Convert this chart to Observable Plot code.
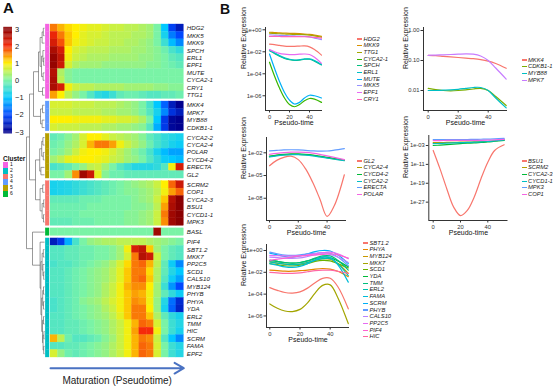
<!DOCTYPE html>
<html><head><meta charset="utf-8">
<script src="https://cdn.jsdelivr.net/npm/d3@7"></script>
<script src="https://cdn.jsdelivr.net/npm/@observablehq/plot@0.6"></script>
<style>
body{margin:0;background:#fff;font-family:'Liberation Sans',Arial,sans-serif}
#fig{position:relative;width:554px;height:386px;overflow:hidden;background:#fff}
#fig svg{position:absolute;left:0;top:0}
.h{position:absolute;white-space:nowrap;color:#111}
</style></head><body><div id="fig"></div>
<script>
// ================= Panel A data =================
const clusterColors = ["#F564E3","#00BFC4","#F8766D","#619CFF","#B79F00","#00BA38"]; // clusters 1..6
const clusterLabels = ["1","2","3","4","5","6"];
const groupClusters = [1,4,5,3,6,2];
const heatStops  = [-3,-2,-1,0,1,2,3];
const heatColors = ["#00008F","#0048FF","#00C8FF","#7AF3A6","#FFEF00","#F52A0A","#8B0000"];
const legendTicks = [3,2,1,0,-1,-2,-3];

const genesG1 = ["HDG2","MKK5","MKK9","SPCH","ERL1","EPF1","MUTE","CYCA2-1","CRY1","TTG1"];
const valuesG1 = [
 [1.6,1.3,1.1,1.0,0.9,0.8,0.8,0.7,0.6,0.6,0.5,0.5,0.4,0.3,0.0,-1.0,-2.1,-2.6],
 [2.1,1.6,1.2,1.0,0.8,0.7,0.7,0.6,0.5,0.5,0.5,0.4,0.4,0.3,0.0,-0.8,-1.6,-2.0],
 [2.3,1.8,1.2,0.9,0.8,0.7,0.6,0.6,0.5,0.5,0.4,0.4,0.3,0.2,0.0,-0.5,-1.1,-1.5],
 [2.7,2.3,1.0,0.7,0.6,0.5,0.5,0.5,0.4,0.4,0.4,0.3,0.3,0.2,0.1,-0.1,-0.4,-0.6],
 [2.9,2.5,0.9,0.6,0.5,0.4,0.4,0.4,0.3,0.3,0.3,0.3,0.2,0.2,0.1,0.0,-0.2,-0.3],
 [2.9,2.4,0.7,0.4,0.3,0.3,0.3,0.2,0.2,0.2,0.2,0.2,0.2,0.1,0.1,0.0,-0.1,-0.2],
 [2.6,0.4,0.1,0.0,0.0,0.0,0.0,0.0,0.0,0.0,0.0,0.0,0.0,0.0,0.0,0.0,0.0,0.0],
 [2.7,0.5,0.1,0.0,0.0,0.0,0.0,0.0,0.0,0.0,0.0,0.0,0.0,0.0,0.0,0.0,0.0,0.0],
 [2.7,2.3,0.9,0.6,0.5,0.5,0.4,0.4,0.4,0.4,0.3,0.3,0.3,0.3,0.2,0.2,0.1,0.1],
 [1.4,1.0,0.5,0.2,0.0,-0.3,-0.6,-0.7,-0.5,-0.2,-0.1,-0.1,-0.2,-0.3,-0.3,-0.2,-0.2,-0.1]
];
const genesG2 = ["MKK4","MPK7","MYB88","CDKB1-1"];
const valuesG2 = [
 [0.7,0.7,0.7,0.6,0.6,0.6,0.5,0.5,0.5,0.4,0.3,0.2,0.0,-0.4,-1.0,-1.8,-2.6,-3.0],
 [0.6,0.6,0.6,0.5,0.5,0.5,0.5,0.4,0.4,0.3,0.3,0.2,0.0,-0.3,-0.8,-1.5,-2.3,-2.6],
 [1.0,1.0,1.0,0.9,0.9,0.9,0.9,0.8,0.8,0.7,0.7,0.6,0.4,0.0,-1.0,-2.2,-2.9,-3.0],
 [0.7,0.6,0.6,0.6,0.5,0.5,0.5,0.4,0.4,0.3,0.3,0.2,0.1,-0.3,-1.2,-2.2,-2.9,-3.0]
];
const genesG3 = ["CYCA2-2","CYCA2-4","POLAR","CYCD4-2","ERECTA","GL2"];
const valuesG3 = [
 [-0.2,-0.1,0.1,0.3,0.7,1.0,1.0,0.8,0.6,0.5,0.4,0.3,0.1,-0.2,-0.4,-0.6,-0.7,-0.8],
 [-0.1,0.0,0.2,0.4,0.7,1.3,1.6,1.6,1.4,0.9,0.6,0.4,0.2,-0.1,-0.4,-0.6,-0.8,-0.9],
 [0.0,0.1,0.3,0.6,0.9,1.0,1.0,0.9,0.7,0.5,0.3,0.1,-0.1,-0.4,-0.8,-1.1,-1.3,-1.3],
 [0.3,0.5,0.8,0.9,1.0,1.0,0.9,0.8,0.6,0.5,0.3,0.2,0.0,-0.3,-0.6,-0.9,-1.0,-1.1],
 [-0.4,-0.3,-0.2,0.0,0.2,0.5,0.6,0.3,0.0,-0.3,-0.5,-0.7,-0.7,-0.7,-0.6,-0.3,0.9,2.3],
 [0.0,0.0,0.3,1.5,2.8,2.4,0.8,0.1,-0.1,-0.1,-0.2,-0.2,-0.2,-0.2,-0.2,-0.2,-0.2,-0.2]
];
const genesG4 = ["SCRM2","COP1","CYCA2-3","BSU1","CYCD1-1","MPK3"];
const valuesG4 = [
 [-0.8,-0.75,-0.7,-0.6,-0.5,-0.4,-0.3,-0.2,-0.1,0.0,0.1,0.2,0.3,0.4,0.6,1.0,1.7,2.4],
 [-0.8,-0.75,-0.7,-0.6,-0.5,-0.4,-0.3,-0.2,-0.1,0.0,0.1,0.1,0.2,0.3,0.5,0.9,1.4,1.7],
 [-0.2,-0.2,-0.2,-0.2,-0.1,-0.1,-0.1,0.0,0.0,0.0,0.0,0.1,0.2,0.3,0.6,1.2,2.6,3.0],
 [-0.1,-0.1,-0.1,-0.1,-0.1,0.0,0.0,0.0,0.0,0.0,0.0,0.1,0.1,0.2,0.5,1.4,2.7,3.0],
 [-0.1,-0.1,-0.1,-0.1,0.0,0.0,0.0,0.0,0.0,0.0,0.1,0.1,0.2,0.3,0.6,1.6,2.8,3.0],
 [-0.2,-0.2,-0.2,-0.1,-0.1,-0.1,0.0,0.0,0.0,0.0,0.1,0.1,0.2,0.3,0.6,1.5,2.8,3.0]
];
const genesG5 = ["BASL"];
const valuesG5 = [
 [0.0,0.0,0.0,0.0,0.0,0.0,0.0,0.0,0.0,0.0,0.0,0.0,0.0,0.0,2.8,0.0,0.0,0.0]
];
const genesG6 = ["PIF4","SBT1.2","MKK7","PP2C5","SCD1","CALS10","MYB124","PHYB","PHYA","YDA","ERL2","TMM","HIC","SCRM","FAMA","EPF2"];
const valuesG6 = [
 [-2.6,-2.2,-1.2,-0.4,0.0,0.2,0.3,0.4,0.4,0.5,0.5,0.5,0.5,0.4,0.3,0.2,0.1,0.0],
 [-0.3,-0.3,-0.2,-0.2,-0.1,-0.1,0.0,0.0,0.1,0.3,0.9,2.3,2.5,1.2,0.3,0.0,-0.2,-0.3],
 [-0.3,-0.3,-0.2,-0.2,-0.1,-0.1,0.0,0.0,0.1,0.3,0.7,1.6,2.6,2.4,0.6,0.0,-0.2,-0.3],
 [-0.4,-0.3,-0.3,-0.2,-0.1,0.0,0.1,0.2,0.4,0.7,1.1,1.6,1.7,1.3,0.5,-0.2,-0.9,-1.5],
 [-0.3,-0.3,-0.2,-0.1,0.0,0.1,0.2,0.3,0.5,0.8,1.2,1.6,1.6,1.1,0.4,-0.2,-0.7,-1.0],
 [-0.3,-0.3,-0.2,-0.1,0.0,0.1,0.2,0.3,0.5,0.8,1.2,1.6,1.7,1.2,0.4,-0.3,-0.9,-1.3],
 [-0.3,-0.3,-0.2,-0.1,0.0,0.1,0.2,0.4,0.6,0.9,1.3,1.5,1.5,1.0,0.3,-0.5,-1.4,-2.0],
 [-0.3,-0.3,-0.2,-0.1,0.0,0.1,0.2,0.4,0.6,0.9,1.2,1.4,1.3,0.9,0.3,-0.2,-0.6,-0.9],
 [-0.4,-0.3,-0.2,-0.1,0.1,0.2,0.3,0.5,0.7,0.9,1.2,1.5,1.4,0.9,0.2,-0.7,-1.7,-2.4],
 [-0.4,-0.3,-0.2,-0.1,0.0,0.1,0.2,0.4,0.6,0.9,1.2,1.6,1.6,1.0,0.2,-0.8,-1.8,-2.5],
 [-0.3,-0.3,-0.2,-0.1,0.0,0.1,0.2,0.3,0.5,0.8,1.2,1.6,1.6,1.2,0.4,-0.2,-0.6,-0.8],
 [-0.3,-0.3,-0.2,-0.2,-0.1,0.0,0.1,0.2,0.4,0.6,0.9,1.3,1.7,1.6,0.7,0.0,-0.5,-0.7],
 [-0.3,-0.3,-0.2,-0.2,-0.1,0.0,0.1,0.2,0.4,0.6,0.9,1.4,2.0,2.0,0.9,0.0,-0.5,-0.8],
 [1.3,0.5,-0.1,-0.3,-0.3,-0.2,-0.1,0.1,0.3,0.6,0.9,1.3,1.6,1.5,0.6,-0.3,-1.0,-1.5],
 [-0.3,-0.3,-0.2,-0.2,-0.1,0.0,0.1,0.2,0.4,0.6,0.9,1.3,1.7,1.6,0.7,0.0,-0.5,-0.7],
 [0.7,0.2,-0.1,-0.2,-0.1,0.0,0.1,0.2,0.4,0.6,0.9,1.3,1.7,1.6,0.7,0.0,-0.5,-0.7]
];
// dendrogram: [height, left, right]; leaves = row index
const dendroG1 = [0.30,[0.22,[0.12,[0.06,0,1],2],[0.15,[0.08,3,[0.04,4,5]],[0.07,6,7]]],[0.10,8,9]];
const dendroG2 = [0.20,[0.10,10,11],[0.12,12,13]];
const dendroG3 = [0.24,[0.14,[0.08,14,15],[0.06,16,17]],[0.18,18,19]];
const dendroG4 = [0.22,[0.09,20,21],[0.12,[0.04,22,23],[0.05,24,25]]];
const dendroG5 = 26;
const dendroG6 = [0.22,27,[0.18,[0.12,[0.06,28,29],[0.08,30,[0.04,31,32]]],[0.14,[0.09,[0.05,33,34],[0.05,35,36]],[0.10,[0.05,37,38],[0.07,[0.03,39,40],[0.04,41,42]]]]]];
const dendroTop = [0.90,[0.75,[0.55,dendroG1,dendroG2],[0.45,dendroG3,dendroG4]],[0.60,dendroG5,dendroG6]];

// ================= Panel B data (log10 of relative expression) =================
const pseudoTime = [0,5,10,15,20,25,30,35,40,45,52];
const xTicks = [0,20,40];

const p1Genes = ["HDG2","MKK9","TTG1","CYCA2-1","SPCH","ERL1","MUTE","MKK5","EPF1","CRY1"];
const p1Colors = ["#F8766D","#D89000","#A3A500","#39B600","#00BF7D","#00BFC4","#00B0F6","#9590FF","#E76BF3","#FF62BC"];
const p1Values = [
 [-1.30,-1.35,-1.42,-1.48,-1.50,-1.50,-1.48,-1.47,-1.55,-1.80,-2.30],
 [-0.22,-0.25,-0.28,-0.30,-0.32,-0.33,-0.35,-0.38,-0.42,-0.48,-0.60],
 [-0.30,-0.33,-0.36,-0.38,-0.40,-0.41,-0.42,-0.44,-0.48,-0.55,-0.68],
 [-2.95,-4.20,-5.30,-6.20,-6.80,-7.00,-6.80,-6.45,-6.25,-6.30,-6.60],
 [-1.90,-2.15,-2.40,-2.60,-2.72,-2.78,-2.75,-2.68,-2.68,-2.85,-3.20],
 [-1.85,-2.10,-2.35,-2.55,-2.68,-2.75,-2.72,-2.65,-2.65,-2.80,-3.15],
 [-2.20,-3.50,-4.70,-5.70,-6.40,-6.75,-6.60,-6.20,-5.95,-6.00,-6.20],
 [-0.45,-0.48,-0.50,-0.52,-0.55,-0.56,-0.57,-0.60,-0.65,-0.75,-0.90],
 [-1.80,-2.00,-2.15,-2.22,-2.25,-2.25,-2.22,-2.20,-2.25,-2.50,-3.05],
 [-0.60,-0.60,-0.61,-0.62,-0.62,-0.62,-0.62,-0.63,-0.65,-0.68,-0.75]
];
const p1Ticks = [0,-2,-4,-6];

const p2Genes = ["MKK4","CDKB1-1","MYB88","MPK7"];
const p2Colors = ["#F8766D","#7CAE00","#00BFC4","#C77CFF"];
const p2Values = [
 [-0.83,-0.84,-0.86,-0.88,-0.90,-0.92,-0.94,-0.97,-1.02,-1.10,-1.26],
 [-1.93,-1.97,-2.00,-2.01,-2.00,-1.98,-1.95,-1.93,-2.00,-2.20,-2.50],
 [-2.00,-2.00,-1.99,-1.98,-1.96,-1.93,-1.90,-1.90,-2.00,-2.25,-2.58],
 [-0.83,-0.82,-0.81,-0.80,-0.79,-0.78,-0.79,-0.85,-1.00,-1.25,-1.62]
];
const p2Ticks = [0,-1,-2];

const p3Genes = ["GL2","CYCA2-4","CYCD4-2","CYCA2-2","ERECTA","POLAR"];
const p3Colors = ["#F8766D","#B79F00","#00BA38","#00BFC4","#619CFF","#F564E3"];
const p3Values = [
 [-3.70,-3.00,-2.60,-2.45,-2.90,-4.10,-5.90,-8.10,-10.40,-9.00,-4.90],
 [-2.50,-2.35,-2.25,-2.20,-2.20,-2.25,-2.35,-2.50,-2.65,-2.80,-3.00],
 [-2.45,-2.30,-2.20,-2.15,-2.15,-2.20,-2.30,-2.45,-2.60,-2.75,-2.95],
 [-2.55,-2.40,-2.30,-2.25,-2.25,-2.30,-2.40,-2.55,-2.70,-2.85,-3.05],
 [-1.75,-1.68,-1.62,-1.60,-1.62,-1.68,-1.74,-1.78,-1.76,-1.65,-1.45],
 [-2.20,-2.08,-1.98,-1.92,-1.90,-1.95,-2.05,-2.20,-2.40,-2.60,-2.90]
];
const p3Ticks = [-2,-5,-8];

const p4Genes = ["BSU1","SCRM2","CYCA2-3","CYCD1-1","MPK3","COP1"];
const p4Colors = ["#F8766D","#B79F00","#00BA38","#00BFC4","#619CFF","#F564E3"];
const p4Values = [
 [-5.1,-12.9,-21.4,-29.1,-32.7,-30.5,-24.9,-17.1,-10.1,-5.1,-2.7],
 [-1.8,-1.8,-1.7,-1.7,-1.6,-1.6,-1.5,-1.4,-1.3,-1.0,-0.6],
 [-3.0,-2.8,-2.6,-2.4,-2.2,-2.0,-1.9,-1.7,-1.5,-1.2,-0.8],
 [-2.2,-2.1,-2.0,-1.9,-1.8,-1.7,-1.6,-1.5,-1.3,-1.0,-0.6],
 [-0.5,-0.5,-0.5,-0.5,-0.5,-0.45,-0.4,-0.35,-0.3,-0.2,0.0],
 [-0.9,-0.9,-0.85,-0.85,-0.85,-0.85,-0.8,-0.8,-0.75,-0.6,-0.4]
];
const p4Ticks = [-3,-11,-19,-27];

const p5Genes = ["SBT1.2","PHYA","MYB124","MKK7","SCD1","YDA","TMM","ERL2","FAMA","SCRM","PHYB","CALS10","PP2C5","PIF4","HIC"];
const p5Colors = ["#F8766D","#E58700","#C99800","#A3A500","#6BB100","#00BA38","#00BF7D","#00C0AF","#00BCD8","#00B0F6","#619CFF","#B983FF","#E76BF3","#FD61D1","#FF67A4"];
const p5Values = [
 [-3.40,-3.65,-3.85,-3.90,-3.80,-3.45,-2.95,-2.55,-2.55,-3.30,-5.35],
 [-1.80,-1.85,-1.90,-1.90,-1.85,-1.80,-1.70,-1.65,-1.70,-1.90,-2.40],
 [-1.05,-1.15,-1.25,-1.30,-1.25,-1.10,-0.90,-0.75,-0.80,-1.20,-2.10],
 [-4.90,-5.30,-5.55,-5.60,-5.40,-4.80,-3.90,-3.20,-3.15,-4.30,-6.70],
 [-1.20,-1.30,-1.40,-1.42,-1.35,-1.20,-1.00,-0.90,-0.95,-1.20,-1.60],
 [-0.90,-1.00,-1.10,-1.15,-1.10,-0.95,-0.75,-0.60,-0.65,-0.95,-1.50],
 [-0.90,-1.00,-1.10,-1.15,-1.10,-0.95,-0.70,-0.50,-0.50,-0.90,-1.80],
 [-1.05,-1.15,-1.25,-1.30,-1.25,-1.10,-0.90,-0.75,-0.75,-1.20,-2.30],
 [-1.20,-1.35,-1.50,-1.55,-1.45,-1.20,-0.85,-0.60,-0.65,-1.30,-2.90],
 [-0.25,-0.40,-0.55,-0.60,-0.50,-0.30,-0.10,0.00,-0.05,-0.40,-1.20],
 [-0.15,-0.30,-0.42,-0.45,-0.40,-0.30,-0.25,-0.20,-0.25,-0.60,-1.40],
 [-0.60,-0.65,-0.70,-0.72,-0.68,-0.55,-0.40,-0.30,-0.35,-0.60,-1.10],
 [-0.45,-0.48,-0.50,-0.50,-0.48,-0.40,-0.30,-0.20,-0.15,-0.30,-0.75],
 [-0.90,-0.80,-0.70,-0.60,-0.50,-0.45,-0.40,-0.35,-0.30,-0.40,-0.70],
 [-2.00,-2.05,-2.10,-2.10,-2.05,-1.95,-1.85,-1.80,-1.80,-1.90,-2.10]
];
const p5Ticks = [0,-2,-4,-6];

// ================= drawing =================
const W = 554, H = 386;
const FONT = "'Liberation Sans', Arial, sans-serif";
const fig = document.getElementById("fig");
const baseStyle = {background: "transparent", fontFamily: FONT, overflow: "visible"};
function add(el) { fig.appendChild(el); return el; }
function html(text, left, top, css) {
  const d = document.createElement("div");
  d.className = "h"; d.textContent = text;
  d.style.left = left + "px"; d.style.top = top + "px";
  Object.assign(d.style, css || {});
  return add(d);
}
function box(left, top, w, h, color) {
  const d = document.createElement("div");
  Object.assign(d.style, {position: "absolute", left: left + "px", top: top + "px", width: w + "px", height: h + "px", background: color});
  return add(d);
}
const heatColor = {type: "linear", domain: heatStops, range: heatColors, clamp: true, interpolate: "rgb"};

// ---- heatmap rows ----
const groups = [
  {cluster: groupClusters[0], genes: genesG1, values: valuesG1},
  {cluster: groupClusters[1], genes: genesG2, values: valuesG2},
  {cluster: groupClusters[2], genes: genesG3, values: valuesG3},
  {cluster: groupClusters[3], genes: genesG4, values: valuesG4},
  {cluster: groupClusters[4], genes: genesG5, values: valuesG5},
  {cluster: groupClusters[5], genes: genesG6, values: valuesG6}
];
const GAP = 0.35;
const NCOL = valuesG1[0].length;
const rowInfo = [], cells = [];
let nRow = 0;
groups.forEach((g, gi) => {
  g.genes.forEach((gene, k) => {
    const pos = nRow + gi * GAP;
    rowInfo.push({gene, pos, cluster: g.cluster});
    g.values[k].forEach((v, c) => cells.push({c, pos, v}));
    nRow++;
  });
});
const yMax = nRow + (groups.length - 1) * GAP;
const yRow = {domain: [0, yMax], range: [24, 357], axis: null};

add(Plot.plot({
  width: W, height: H, style: baseStyle,
  marginLeft: 50, marginRight: W - 183.3, marginTop: 24, marginBottom: H - 357,
  x: {domain: [0, NCOL], range: [50, 183.3], axis: null},
  y: yRow,
  color: heatColor,
  marks: [
    Plot.rect(cells, {x1: "c", x2: d => d.c + 1, y1: "pos", y2: d => d.pos + 1, fill: "v", stroke: "v", strokeWidth: 0.35}),
    Plot.text(rowInfo, {x: NCOL, y: d => d.pos + 0.5, text: "gene", textAnchor: "start", dx: 3, fontStyle: "italic", fontSize: 6.2, fill: "#222"}),
    Plot.arrow([0], {x1: 0, x2: NCOL, y1: yMax + 1.44, y2: yMax + 1.44, stroke: "#4A72C2", strokeWidth: 2, headLength: 8, bend: 0}),
    Plot.text(["Maturation (Pseudotime)"], {x: NCOL / 2, y: yMax + 3.1, fontSize: 10, fill: "#222"})
  ]
}));

// ---- dendrogram + cluster strip ----
const posOf = rowInfo.map(r => r.pos);
const segs = [];
function layoutTree(node) {
  if (typeof node === "number") return {h: 0, y: posOf[node] + 0.5};
  const [h, a, b] = node;
  const A = layoutTree(a), B = layoutTree(b);
  segs.push({x1: h, x2: h, y1: A.y, y2: B.y});
  segs.push({x1: A.h, x2: h, y1: A.y, y2: A.y});
  segs.push({x1: B.h, x2: h, y1: B.y, y2: B.y});
  return {h, y: (A.y + B.y) / 2};
}
layoutTree(dendroTop);
add(Plot.plot({
  width: W, height: H, style: baseStyle,
  x: {domain: [0, 1], range: [44, 24], axis: null},
  y: yRow,
  color: {type: "ordinal", domain: [1,2,3,4,5,6], range: clusterColors},
  marks: [
    Plot.link(segs, {x1: "x1", x2: "x2", y1: "y1", y2: "y2", stroke: "#555", strokeWidth: 0.6}),
    Plot.rect(rowInfo, {x1: -0.06, x2: -0.25, y1: "pos", y2: d => d.pos + 1, fill: "cluster", stroke: "cluster", strokeWidth: 0.3})
  ]
}));

// ---- colour bar ----
const barSteps = d3.range(-3.1, 3.1, 0.05);
add(Plot.plot({
  width: W, height: H, style: baseStyle,
  x: {domain: [0, 1], range: [3.3, 12], axis: null},
  y: {domain: [-3, 3], range: [131.7, 28.7], axis: null},
  color: heatColor,
  marks: [
    Plot.rect(barSteps, {x1: 0, x2: 1, y1: d => d, y2: d => d + 0.06, fill: d => d + 0.025}),
    Plot.text(legendTicks, {x: 1, y: d => d, dx: 2.5, textAnchor: "start", text: d => d < 0 ? "\u2212" + (-d) : String(d), fontSize: 7.5, fill: "#222"})
  ]
}));

// ---- cluster legend ----
html("Cluster", 3, 155, {fontSize: "6.5px", fontWeight: "bold", lineHeight: "7px"});
clusterColors.forEach((c, i) => {
  box(2.7, 162 + i * 5.8, 5.6, 5.8, c);
  html(clusterLabels[i], 10, 162 + i * 5.8, {fontSize: "5px", lineHeight: "5.8px"});
});

// ---- panel labels ----
html("A", 3, 0, {fontSize: "15px", fontWeight: "bold", lineHeight: "15px"});
html("B", 220, 2, {fontSize: "14px", fontWeight: "bold", lineHeight: "14px"});

// ---- B panels ----
const fmtExp = d => { const e = Math.round(Math.log10(d)); return "1e" + (e < 0 ? "-" : "+") + String(Math.abs(e)).padStart(2, "0"); };
const fmtFixed = d => d.toFixed(2);
function panel(cfg) {
  const data = [];
  cfg.genes.forEach((g, i) => cfg.values[i].forEach((e, j) => data.push({gene: g, t: pseudoTime[j], y: Math.pow(10, e)})));
  const [fx0, fx1, fy0, fy1] = cfg.frame;
  const yDom = [Math.pow(10, cfg.yExp[0]), Math.pow(10, cfg.yExp[1])];
  add(Plot.plot({
    width: W, height: H, style: baseStyle,
    marginLeft: fx0, marginRight: W - fx1, marginTop: fy0, marginBottom: H - fy1,
    x: {domain: cfg.xDom, range: [fx0, fx1]},
    y: {type: "log", domain: yDom, range: [fy1, fy0]},
    color: {domain: cfg.genes, range: cfg.colors},
    marks: [
      Plot.line(data, {x: "t", y: "y", z: "gene", stroke: "gene", curve: "catmull-rom", strokeWidth: 1.2}),
      Plot.ruleX([cfg.xDom[0]], {stroke: "#000", strokeWidth: 0.8}),
      Plot.ruleY([yDom[0]], {stroke: "#000", strokeWidth: 0.8}),
      Plot.axisX({ticks: xTicks, tickSize: 2.5, tickPadding: 1.5, fontSize: 5.8, color: "#333", label: null}),
      Plot.axisY({ticks: cfg.yTicks.map(e => Math.pow(10, e)), tickFormat: cfg.fmt, tickSize: 2.5, tickPadding: 1.5, fontSize: 5.8, color: "#333", label: null}),
      Plot.text(["Relative Expression"], {frameAnchor: "left", rotate: -90, dx: cfg.ylabX - fx0, fontSize: 7, fill: "#111"}),
      Plot.text(["Pseudo-time"], {frameAnchor: "bottom", dy: 14, fontSize: 7, fill: "#111"})
    ]
  }));
  cfg.genes.forEach((g, i) => {
    const y = cfg.leg[2] + i * cfg.leg[3];
    box(cfg.leg[0], y - 0.6, 5, 1.2, cfg.colors[i]);
    html(g, cfg.leg[1], y - 3.5, {fontSize: "5.8px", fontStyle: "italic", lineHeight: "7px", color: "#222"});
  });
}
panel({genes: p1Genes, colors: p1Colors, values: p1Values, frame: [265, 322, 27, 110], xDom: [-4, 53], yExp: [-7.34, 0.21], yTicks: p1Ticks, fmt: fmtExp, ylabX: 243, leg: [357, 363.5, 39, 6.7]});
panel({genes: p2Genes, colors: p2Colors, values: p2Values, frame: [423, 507, 27, 110], xDom: [-3.13, 52.87], yExp: [-2.667, 0.1], yTicks: p2Ticks, fmt: fmtFixed, ylabX: 405.7, leg: [521.5, 528, 60, 6.7]});
panel({genes: p3Genes, colors: p3Colors, values: p3Values, frame: [266, 346, 137, 220], xDom: [-2.08, 53.5], yExp: [-10.94, 0.02], yTicks: p3Ticks, fmt: fmtExp, ylabX: 243, leg: [357, 363.5, 161, 6.7]});
panel({genes: p4Genes, colors: p4Colors, values: p4Values, frame: [428.3, 507.5, 135, 220], xDom: [-3.22, 54.8], yExp: [-34.78, 1.24], yTicks: p4Ticks, fmt: fmtExp, ylabX: 405.7, leg: [521.5, 528, 161, 6.7]});
panel({genes: p5Genes, colors: p5Colors, values: p5Values, frame: [266, 349, 244, 327], xDom: [-2.19, 52.8], yExp: [-7.06, 0.55], yTicks: p5Ticks, fmt: fmtExp, ylabX: 243, leg: [363, 369.5, 243, 6.7]});
</script></body></html>
